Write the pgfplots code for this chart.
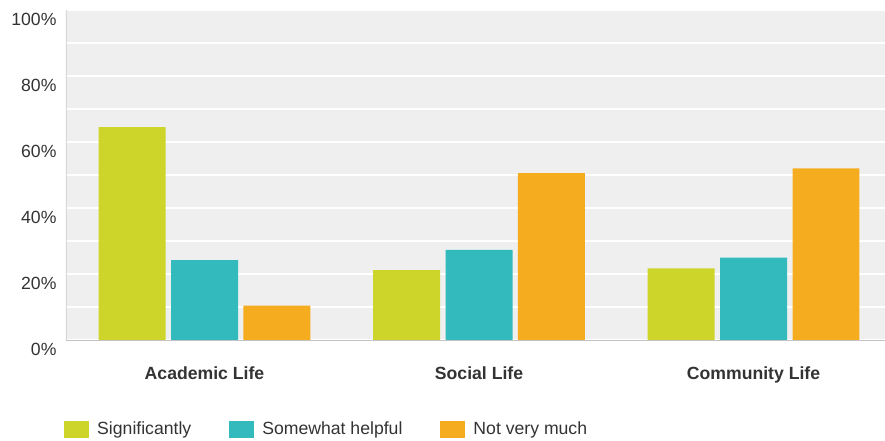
\documentclass[border=0pt]{standalone}
\usepackage{pgfplots}
\pgfplotsset{compat=1.18}
\usepackage{fontspec}
\setmainfont{Liberation Sans}
\definecolor{cSig}{HTML}{CDD42A}
\definecolor{cSom}{HTML}{33BABD}
\definecolor{cNot}{HTML}{F5AC1F}
\definecolor{bgc}{HTML}{EFEFEF}
\definecolor{txt}{HTML}{333333}
\definecolor{axl}{HTML}{D8D8D8}
\begin{document}
\begin{tikzpicture}
\useasboundingbox (-66bp,-101bp) rectangle (819bp,340bp);
\begin{axis}[
  at={(0,0)}, anchor=south west,
  scale only axis, width=819bp, height=330bp,
  xmin=-0.5046, xmax=2.479, ymin=0, ymax=100,
  axis background/.style={fill=bgc},
  axis line style={draw=none},
  ybar, bar width=0.244,
  xtick={0,1,2},
  xticklabels={Academic Life, Social Life, Community Life},
  xticklabel style={font=\fontsize{17.7}{20}\selectfont\bfseries, text=txt, yshift=-23bp},
  major tick length=0pt, minor tick length=0pt,
  ytick={0,20,...,100}, minor ytick={10,30,...,90},
  ymajorgrids, yminorgrids,
  major grid style={white, line width=1.5bp},
  minor grid style={white, line width=1.5bp},
  /pgf/number format/assume math mode=true,
  yticklabel={\pgfmathprintnumber{\tick}\%},
  yticklabel style={font=\fontsize{17.7}{20}\selectfont, text=txt, xshift=-6bp, yshift=-9bp},
  legend image code/.code={\path[#1, draw=none] (0bp,-9.2bp) rectangle (25bp,7.8bp);},
  legend style={at={(-0.0024,-0.2706)}, anchor=west, draw=none, fill=none, inner sep=0pt,
    font=\fontsize{17.7}{20}\selectfont, text=txt, legend columns=3,
    /tikz/every odd column/.append style={column sep=6bp},
    /tikz/every even column/.append style={column sep=36bp}},
  legend cell align=left,
]
\addplot[fill=cSig, draw=none, bar shift=-0.264] coordinates {(0,64.5) (1,21.2) (2,21.7)};
\addplot[fill=cSom, draw=none, bar shift=0] coordinates {(0,24.2) (1,27.3) (2,25.0)};
\addplot[fill=cNot, draw=none, bar shift=0.264] coordinates {(0,10.4) (1,50.6) (2,52.0)};
\legend{Significantly, Somewhat helpful, Not very much}
\draw[axl, line width=3bp] (rel axis cs:0,0) -- (rel axis cs:0,1);
\draw[axl!90!black, line width=0.8bp] (rel axis cs:0,0) -- (rel axis cs:1,0);
\end{axis}
\end{tikzpicture}
\end{document}
